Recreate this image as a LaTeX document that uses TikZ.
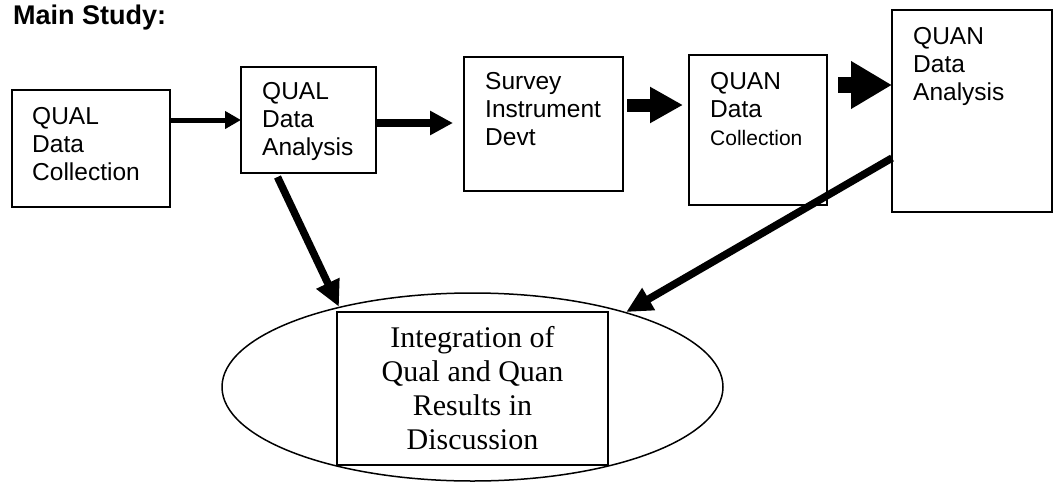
\documentclass[tikz,border=0pt]{standalone}
\usepackage{fontspec}
\setmainfont{Liberation Serif}
\setsansfont{Liberation Sans}
\usetikzlibrary{positioning,shapes,arrows.meta}

\begin{document}
\begin{tikzpicture}[x=1pt, y=-1pt,
    stage/.style={draw, line width=1.6pt, rectangle, anchor=north west, inner sep=0pt, outer sep=0pt},
    stagetext/.style={anchor=north west, inner sep=0pt, align=left, font=\sffamily\fontsize{24.5}{28}\selectfont},
    arrA/.style={line width=5pt, -{Triangle[length=16pt,width=17pt]}},
    arrB/.style={line width=8pt, -{Triangle[length=23pt,width=23pt]}},
    arrC/.style={line width=13pt, -{Triangle[length=33pt,width=34pt]}},
    arrD/.style={line width=16pt, -{Triangle[length=41pt,width=45pt]}},
    arrE/.style={line width=7.5pt, -{Triangle[length=26pt,width=24pt]}}]
      \useasboundingbox (0,0) rectangle (1053,482);
      \node (title) [anchor=base west, inner sep=0pt, font=\sffamily\bfseries\fontsize{27}{30}\selectfont] at (13,24) {Main Study:};
      \node (qualcoll) [stage, minimum width=158pt, minimum height=117pt] at (12,90) {};
      \node (qualanal) [stage, minimum width=135pt, minimum height=106pt] at (241,67) {};
      \node (survey)   [stage, minimum width=159pt, minimum height=134pt] at (464,57) {};
      \node (quancoll) [stage, minimum width=138pt, minimum height=150pt] at (689,55) {};
      \node (quananal) [stage, minimum width=160pt, minimum height=202pt] at (892,10) {};
      \node (qualcoll-t) [stagetext] at ([shift={(20pt,-17pt)}]qualcoll.north west) {QUAL\\Data\\Collection};
      \node (qualanal-t) [stagetext] at ([shift={(21pt,-15pt)}]qualanal.north west) {QUAL\\Data\\Analysis};
      \node (survey-t)   [stagetext] at ([shift={(21pt,-15pt)}]survey.north west) {Survey\\Instrument\\Devt};
      \node (quancoll-t) [stagetext] at ([shift={(21pt,-17pt)}]quancoll.north west) {QUAN\\Data\\{\fontsize{21}{28}\selectfont Collection}};
      \node (quananal-t) [stagetext] at ([shift={(21pt,-17pt)}]quananal.north west) {QUAN\\Data\\Analysis};
      \node (integ) [draw, ellipse, line width=1.5pt, inner sep=0pt, minimum width=501pt, minimum height=188pt] at (472.5,387) {};
      \node (intbox) [draw, line width=1.6pt, inner sep=0pt, minimum width=271pt, minimum height=153pt, align=center,
                      font=\fontsize{30}{34}\selectfont] at (472.5,388.5) {Integration of\\Qual and Quan\\Results in\\Discussion};
      \coordinate (qualanal-out) at ([shift={(-31pt,-4pt)}]qualanal.south);
      \draw[arrA] (qualcoll.east |- 0,120) -- (qualanal.west |- 0,120);
      \draw[arrB, shorten >=11pt] (qualanal.east |- 0,123) -- (survey.west |- 0,123);
      \draw[arrC, shorten <=4pt, shorten >=6pt] (survey.east |- 0,105) -- (quancoll.west |- 0,105);
      \draw[arrD, shorten <=11pt] (quancoll.east |- 0,85) -- (quananal.west |- 0,85);
      \draw[arrE] (qualanal-out) -- (integ.149);
      \draw[arrE] (quananal.west |- 0,158) -- (integ.26);
\end{tikzpicture}
\end{document}
